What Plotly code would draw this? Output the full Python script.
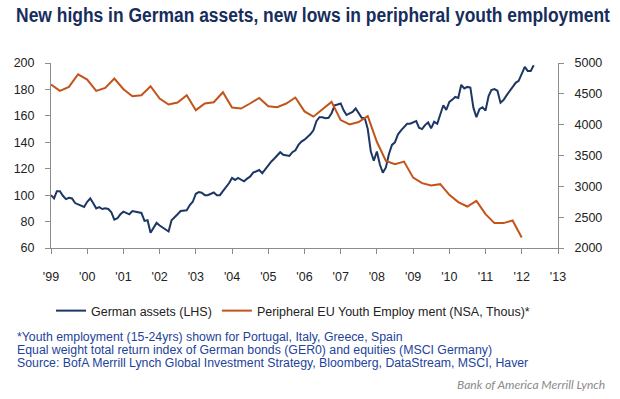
import pandas as pd
import plotly.graph_objects as go

# ---- data ----
german_start = "1999-01-01"
german_assets = [
    100, 97.5, 103, 103, 99.5, 97, 98, 97.5, 94, 93, 92.5, 91,
    95, 97.5, 94, 90, 91, 89.5, 90, 89.5, 87, 81.5, 82.5, 85.5,
    87.5, 86.5, 85.5, 88, 87.5, 87, 86.5, 80.5, 81, 71.5, 75, 79,
    77, 75.5, 73.5, 72.5, 81, 83, 85.5, 88, 88.5, 88.5, 92.5, 95,
    101, 102.3, 101.8, 100, 100, 101, 102, 100, 100, 103, 106, 109,
    113, 111.5, 113, 111.5, 110.5, 112.5, 114, 117, 118, 119, 116.6, 119.5,
    123, 125.5, 127.5, 130, 132.5, 130.5, 130, 129.7, 132.5, 134, 138, 140.5,
    142, 144, 146, 149, 156, 159, 159, 158.2, 158.5, 162, 168, 168.6,
    169.4, 164, 160.6, 161.8, 163, 165.6, 162.6, 158.6, 158.3, 150, 133, 126,
    133, 123, 117, 121, 131, 138, 140, 146, 149, 151.8, 154, 154,
    155, 156, 151, 150, 153, 155, 150.5, 155.5, 154, 161, 168, 164.5,
    170.5, 172.3, 174.3, 173.6, 183.5, 180.7, 181.9, 181.4, 166, 159, 165, 166.5,
    164, 175, 179.5, 180.2, 179, 170, 172, 175.5, 179, 182.5, 185, 186.5,
    192, 197, 194, 194, 198.3,
]
youth_start = "1999-01-01"
youth_employment = [
    4650, 4548, 4612, 4817,
    4731, 4548, 4596, 4747,
    4575, 4461, 4478, 4623,
    4424, 4327, 4359, 4478,
    4235, 4343, 4364, 4526,
    4278, 4262, 4343, 4434,
    4300, 4284, 4343, 4440,
    4215, 4130, 4250, 4370,
    4074, 4004, 4043, 4139,
    3723, 3411, 3358, 3401,
    3141, 3051, 3013, 3035,
    2862, 2744, 2673, 2765,
    2550, 2404, 2404, 2447,
    2171,
]
year_ticks = [f"{y}-01-01" for y in range(1999, 2014)]
year_labels = ["'" + str(y)[-2:] for y in range(1999, 2014)]
left_ticks = [60, 80, 100, 120, 140, 160, 180, 200]
right_ticks = [2000, 2500, 3000, 3500, 4000, 4500, 5000]

german_dates = pd.date_range(german_start, periods=len(german_assets), freq="MS")
youth_dates = pd.date_range(youth_start, periods=len(youth_employment), freq="QS")

BLUE = "#1c3766"
ORANGE = "#c4531a"
AXIS = "#8c8c8c"
TXT = "#222222"
FONT = "Liberation Sans, Arial, sans-serif"

fig = go.Figure()
fig.add_trace(go.Scatter(x=german_dates, y=german_assets, mode="lines",
                         name="German assets (LHS)",
                         line=dict(color=BLUE, width=2), yaxis="y"))
fig.add_trace(go.Scatter(x=youth_dates, y=youth_employment, mode="lines",
                         name="Peripheral EU Youth Employ ment (NSA, Thous)*",
                         line=dict(color=ORANGE, width=2), yaxis="y2"))

W, H = 620, 399
L, R, T, B = 51, 558, 63, 248

axis_common = dict(showgrid=False, zeroline=False, showline=True, linecolor=AXIS, linewidth=1,
                   ticks="outside", ticklen=5, tickcolor=AXIS,
                   tickfont=dict(size=12.5, color=TXT))

fig.update_layout(
    width=W, height=H,
    margin=dict(l=L, r=W - R, t=T, b=H - B, pad=0, autoexpand=False),
    paper_bgcolor="white", plot_bgcolor="white",
    font=dict(family=FONT, size=12, color=TXT),
    showlegend=True,
    legend=dict(orientation="h", x=0.0, xanchor="left", y=-(311 - B) / (B - T), yanchor="middle",
                font=dict(size=12.5, color=TXT), bgcolor="rgba(0,0,0,0)",
                itemwidth=30, tracegroupgap=0),
    xaxis=dict(type="date", range=["1999-01-01", "2013-01-01"],
               tickmode="array", tickvals=year_ticks, ticktext=year_labels,
               ticklabelstandoff=12, **axis_common),
    yaxis=dict(range=[60, 200], tickvals=left_ticks, ticklabelstandoff=8, **axis_common),
    yaxis2=dict(range=[2000, 5000], tickvals=right_ticks, overlaying="y", side="right",
                ticklabelstandoff=8, **axis_common),
)


def px_x(px):
    return (px - L) / (R - L)


def px_y(py):
    return (B - py) / (B - T)


fig.add_annotation(text="<b>New highs in German assets, new lows in peripheral youth employment</b>",
                   xref="paper", yref="paper", x=px_x(16), y=px_y(14), xanchor="left", yanchor="middle",
                   showarrow=False, font=dict(family=FONT, size=21, color="#172d5c"))

notes = [
    "*Youth employment (15-24yrs) shown for Portugal, Italy, Greece, Spain",
    "Equal weight total return index of German bonds (GER0) and equities (MSCI Germany)",
    "Source: BofA Merrill Lynch Global Investment Strategy, Bloomberg, DataStream, MSCI, Haver",
]
for i, n in enumerate(notes):
    fig.add_annotation(text=n, xref="paper", yref="paper", x=px_x(15), y=px_y(337 + i * 13),
                       xanchor="left", yanchor="middle", showarrow=False,
                       font=dict(size=12.3, color="#23439b"))

fig.add_annotation(text="<i>Bank of America Merrill Lynch</i>", xref="paper", yref="paper",
                   x=px_x(607), y=px_y(384), xanchor="right", yanchor="middle", showarrow=False,
                   font=dict(family="Lato, Liberation Sans, sans-serif", size=12, color="#8a8a8a"))

# remove the page's default body margin and condense the title horizontally
post = """
document.body.style.margin = '0';
var gd = document.getElementById('{plot_id}');
var svg = gd.querySelector('.main-svg');
var el = gd.querySelector('.annotation[data-index="0"] text.annotation-text');
if (el && svg) {
  var bb = el.getBBox();
  var r = el.getBoundingClientRect();
  var sr = svg.getBoundingClientRect();
  var s = 594 / r.width;
  var dx = (sr.left + 16) - r.left;
  var x0 = bb.x;
  el.setAttribute('transform', 'translate(' + (x0 + dx) + ',0) scale(' + s + ',1) translate(' + (-x0) + ',0)');
}
"""

fig.write_html("out.html", post_script=post, config={"displayModeBar": False})
